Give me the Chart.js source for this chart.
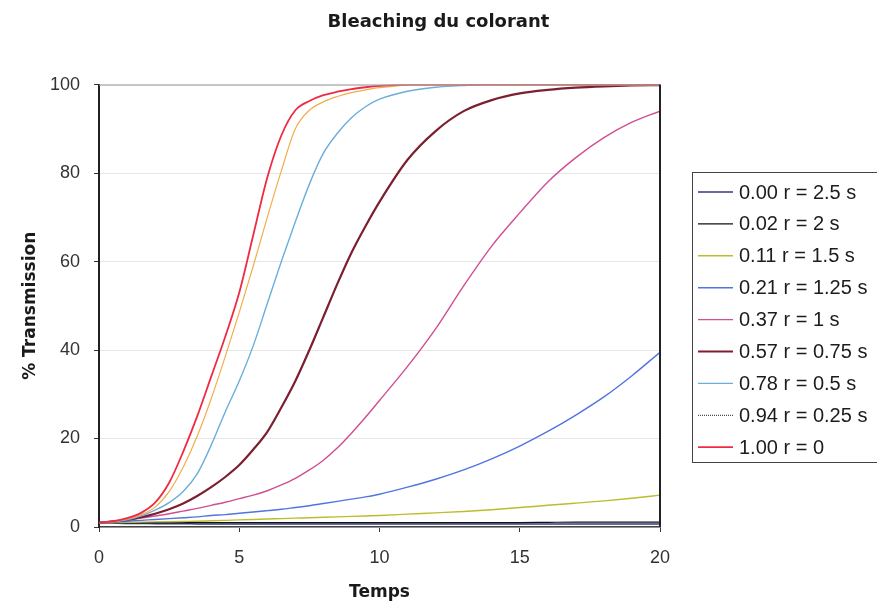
<!DOCTYPE html>
<html>
<head>
<meta charset="utf-8">
<script src="https://cdn.jsdelivr.net/npm/chart.js@4.4.1/dist/chart.umd.min.js"></script>
<style>
  html, body { margin: 0; padding: 0; background: #fff; }
  canvas { display: block; }
</style>
</head>
<body>
<canvas id="bleach" width="877" height="609"></canvas>
<script>
// temps (axe x)
const temps = [0, 0.5, 1, 1.5, 2, 2.5, 3, 3.5, 4, 4.5, 5, 5.5, 6, 6.5, 7, 7.5, 8, 8.5, 9, 9.5, 10,
  11, 12, 13, 14, 15, 16, 17, 18, 19, 20];

const labels = ["0.00 r = 2.5 s", "0.02 r = 2 s", "0.11 r = 1.5 s", "0.21 r = 1.25 s", "0.37 r = 1 s",
  "0.57 r = 0.75 s", "0.78 r = 0.5 s", "0.94 r = 0.25 s", "1.00 r = 0"];

// % transmission
const s000 = [1, 0.9, 0.8, 0.8, 0.75, 0.75, 0.75, 0.7, 0.7, 0.7, 0.7, 0.7, 0.7, 0.7, 0.7, 0.7, 0.7, 0.7, 0.7, 0.7, 0.7,
  0.7, 0.7, 0.7, 0.7, 0.7, 0.7, 0.7, 0.7, 0.7, 0.7];
const s002 = [1, 1, 1, 1, 1, 1, 1, 1, 1, 1, 1, 1, 1, 1, 1, 1, 1, 1, 1, 1, 1,
  1, 1, 1, 1, 1, 1.05, 1.1, 1.1, 1.1, 1.1];
const s011 = [1, 1, 1.05, 1.1, 1.15, 1.2, 1.25, 1.3, 1.4, 1.5, 1.6, 1.7, 1.8, 1.9, 2, 2.1, 2.2, 2.3, 2.4, 2.5, 2.6,
  2.9, 3.2, 3.5, 3.9, 4.4, 4.9, 5.4, 5.9, 6.5, 7.2];
const s021 = [1, 1.1, 1.3, 1.5, 1.7, 1.9, 2.1, 2.3, 2.6, 2.8, 3.1, 3.4, 3.7, 4, 4.4, 4.8, 5.3, 5.8, 6.3, 6.8, 7.4,
  9, 10.8, 12.9, 15.4, 18.3, 21.6, 25.3, 29.4, 34.2, 39.5];
const s037 = [1, 1.3, 1.6, 2, 2.5, 3, 3.6, 4.2, 4.9, 5.6, 6.4, 7.2, 8.2, 9.5, 11, 12.9, 15.1, 17.9, 21.2, 24.8, 28.6,
  36.3, 44.8, 54.5, 63.5, 71, 78, 83.5, 88, 91.5, 94];
const s057 = [1, 1.2, 1.6, 2.2, 3, 4, 5.3, 7, 9, 11.3, 14, 17.5, 21.5, 27, 33, 40, 47.5, 55, 62, 68, 73.5,
  83, 89.5, 94, 96.5, 98, 98.8, 99.3, 99.6, 99.8, 99.9];
const s078 = [1, 1.1, 1.6, 2.5, 3.8, 5.5, 8, 12, 18.5, 26, 33, 41, 50.5, 60, 69, 77.5, 84.5, 89, 92.5, 95, 96.7,
  98.5, 99.4, 99.8, 100, 100, 100, 100, 100, 100, 100];
const s094 = [1, 1.2, 1.8, 2.8, 4.5, 8, 13.5, 20.5, 29, 38.5, 48.5, 59, 70, 80.5, 90, 94.2, 96.1, 97.3, 98.2, 98.8, 99.3,
  99.9, 100, 100, 100, 100, 100, 100, 100, 100, 100];
const s100 = [1, 1.3, 2, 3.2, 5.5, 10, 17, 25, 34, 43, 53, 66, 79, 88.5, 94.2, 96.3, 97.6, 98.4, 99, 99.4, 99.7,
  100, 100, 100, 100, 100, 100, 100, 100, 100, 100];

const series = [s000, s002, s011, s021, s037, s057, s078, s094, s100];
const colors = ["#35397f", "#111111", "#bcbc2c", "#5274e0", "#d04e92", "#7c1f30", "#6aaedc", "#f2ad4a", "#ee2b43"];
const widths = [1.5, 1.2, 1.4, 1.4, 1.4, 2.2, 1.4, 1.2, 1.8];

const datasets = series.map((vals, i) => ({
  label: labels[i],
  data: vals.map((v, j) => ({ x: temps[j], y: v })),
  borderColor: colors[i],
  borderWidth: widths[i],
  pointRadius: 0,
  fill: false,
  cubicInterpolationMode: "monotone",
  order: series.length - 1 - i
}));
// dans la légende d'origine la série 0.94 est en pointillé noir
datasets[7].legendColor = "#222";
datasets[7].legendDash = [1, 1];

// cadre du graphique (haut + droite)
const plotFrame = {
  id: "plotFrame",
  afterDatasetsDraw(chart) {
    const { ctx, chartArea: a } = chart;
    ctx.save();
    ctx.strokeStyle = "#9a9a9a";
    ctx.lineWidth = 1;
    ctx.beginPath();
    ctx.moveTo(a.left, a.top + 0.5);
    ctx.lineTo(a.right, a.top + 0.5);
    ctx.stroke();
    ctx.strokeStyle = "#222";
    ctx.lineWidth = 2;
    ctx.beginPath();
    ctx.moveTo(a.right, a.top);
    ctx.lineTo(a.right, a.bottom);
    ctx.stroke();
    ctx.restore();
  }
};

// légende encadrée à droite
const legendBox = {
  id: "legendBox",
  afterDraw(chart) {
    const { ctx, chartArea: a } = chart;
    const x0 = a.right + 32, y0 = 172, rowH = 31.9;
    ctx.save();
    ctx.strokeStyle = "#444";
    ctx.lineWidth = 1;
    ctx.strokeRect(x0 + 0.5, y0 + 0.5, 200, 290);
    ctx.font = "20px 'Liberation Sans', Arial, sans-serif";
    ctx.fillStyle = "#1c1c1c";
    ctx.textBaseline = "middle";
    chart.data.datasets.forEach((ds, i) => {
      const y = y0 + 20 + i * rowH;
      ctx.strokeStyle = ds.legendColor || ds.borderColor;
      ctx.lineWidth = ds.legendColor ? 1 : Math.min(ds.borderWidth, 2);
      ctx.setLineDash(ds.legendDash || []);
      ctx.beginPath();
      ctx.moveTo(x0 + 6, y);
      ctx.lineTo(x0 + 41, y);
      ctx.stroke();
      ctx.setLineDash([]);
      ctx.fillText(ds.label, x0 + 47, y + 1);
    });
    ctx.restore();
  }
};

new Chart(document.getElementById("bleach"), {
  type: "line",
  data: { datasets: datasets },
  plugins: [plotFrame, legendBox],
  options: {
    responsive: false,
    animation: false,
    layout: { padding: 0 },
    plugins: {
      legend: { display: false },
      tooltip: { enabled: false },
      title: {
        display: true,
        text: "Bleaching du colorant",
        color: "#1a1a1a",
        font: { family: "'DejaVu Sans', sans-serif", size: 18, weight: "bold" },
        padding: { top: 12, bottom: 51 }
      }
    },
    scales: {
      x: {
        type: "linear",
        min: 0,
        max: 20,
        afterFit: s => { s.height = 82; },
        ticks: {
          stepSize: 5,
          padding: 15,
          color: "#333",
          font: { family: "'Liberation Sans', Arial, sans-serif", size: 18 }
        },
        grid: { drawOnChartArea: false, tickLength: 5, tickColor: "#333", color: "#333" },
        border: { color: "#444", width: 1.5 },
        title: {
          display: true,
          text: "Temps",
          color: "#1a1a1a",
          font: { family: "'DejaVu Sans', sans-serif", size: 17, weight: "bold" },
          padding: { top: 0, bottom: 6 }
        }
      },
      y: {
        min: 0,
        max: 100,
        afterFit: s => { s.width = 99; },
        ticks: {
          stepSize: 20,
          padding: 14,
          color: "#333",
          font: { family: "'Liberation Sans', Arial, sans-serif", size: 18 }
        },
        grid: { color: "#e6e6e6", tickLength: 5, tickColor: "#333" },
        border: { color: "#222", width: 2 },
        title: {
          display: true,
          text: "% Transmission",
          color: "#1a1a1a",
          font: { family: "'DejaVu Sans', sans-serif", size: 17, weight: "bold" },
          padding: { top: 20, bottom: 0 }
        }
      },
      // axe vide : réserve la place de la légende à droite
      legendSpace: {
        type: "linear",
        position: "right",
        afterFit: s => { s.width = 217; },
        ticks: { display: false },
        grid: { display: false },
        border: { display: false }
      }
    }
  }
});
</script>
</body>
</html>
